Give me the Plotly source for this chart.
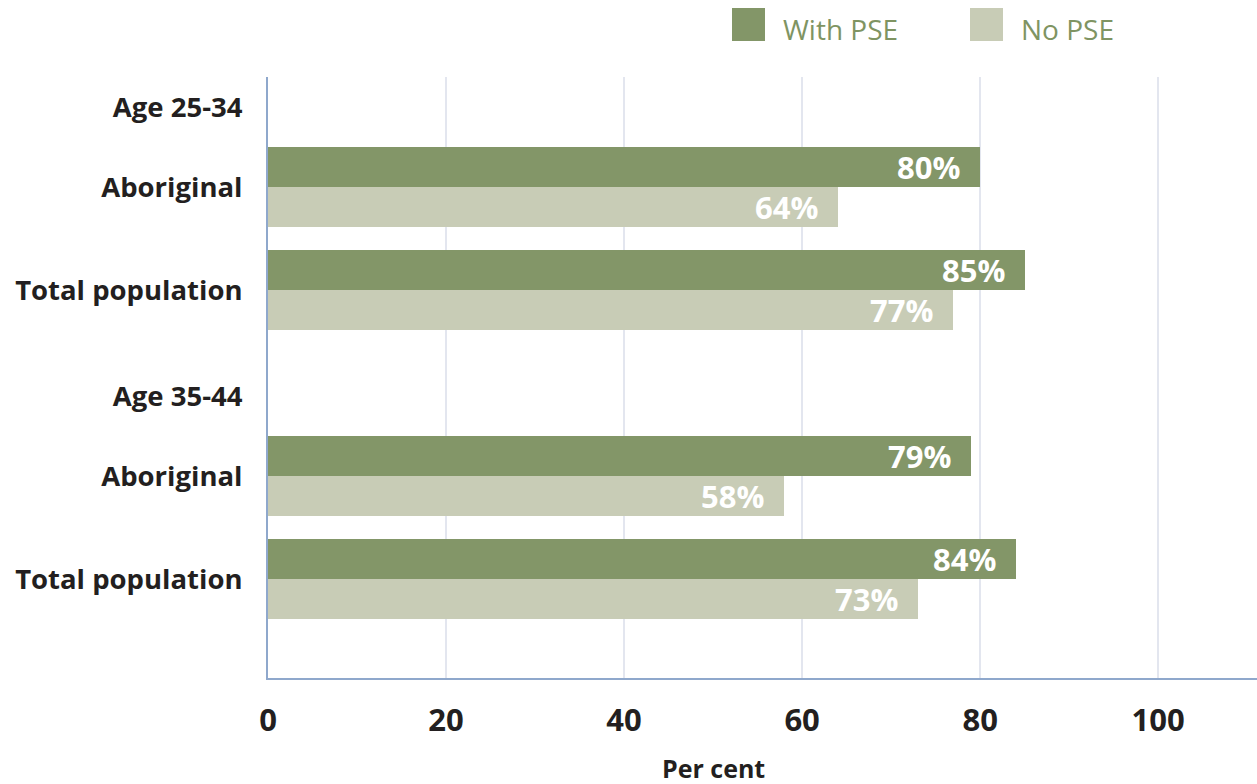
import plotly.graph_objects as go

# Employment rates (per cent) by age group and population
age_groups = ["Age 25-34", "Age 35-44"]
populations = ["Aboriginal", "Total population"]
with_pse = [[80, 85], [79, 84]]
no_pse = [[64, 77], [58, 73]]
x_ticks = [0, 20, 40, 60, 80, 100]

GREEN = "#839668"
LIGHT = "#c8ccb6"
AXIS = "#8fa8cc"
GRID = "#e3e6ef"
FONT = "Open Sans"

# vertical layout (axis units == pixels in plot area)
GROUP_STEP = 289
HEADER_OFFSET = 30
ROW_CENTERS = [110, 213]
BAR_H = 40

fig = go.Figure()

y_centers, w_vals, n_vals = [], [], []
tickvals, ticktext = [], []
for g, grp in enumerate(age_groups):
    base = g * GROUP_STEP
    tickvals.append(base + HEADER_OFFSET)
    ticktext.append(grp)
    for r, pop in enumerate(populations):
        c = base + ROW_CENTERS[r]
        y_centers.append(c)
        w_vals.append(with_pse[g][r])
        n_vals.append(no_pse[g][r])
        tickvals.append(c)
        ticktext.append(pop)

fig.add_trace(go.Bar(
    x=w_vals, y=y_centers, orientation="h", name="With PSE",
    marker=dict(color=GREEN, line=dict(width=0)),
    width=BAR_H, offset=-BAR_H, showlegend=False, hoverinfo="x"))
fig.add_trace(go.Bar(
    x=n_vals, y=y_centers, orientation="h", name="No PSE",
    marker=dict(color=LIGHT, line=dict(width=0)),
    width=BAR_H, offset=0, showlegend=False, hoverinfo="x"))

annotations = []
for c, w, n in zip(y_centers, w_vals, n_vals):
    for val, yy in ((w, c - BAR_H / 2), (n, c + BAR_H / 2)):
        annotations.append(dict(
            x=val, y=yy, xref="x", yref="y", text=f"{val}%",
            showarrow=False, xanchor="right", yanchor="middle", xshift=-18,
            font=dict(family=FONT, size=31, color="white", weight="bold")))

# axis title, centred under the 0-100 span
annotations.append(dict(
    x=50, y=-0.15, xref="x", yref="paper", text="Per cent", showarrow=False,
    xanchor="center", yanchor="middle",
    font=dict(family=FONT, size=25, color="#231f20", weight="bold")))

# legend
shapes = []
for label, color, x0 in (("With PSE", GREEN, 732), ("No PSE", LIGHT, 970)):
    shapes.append(dict(type="rect", xref="paper", yref="paper",
                       x0=(x0 - 268) / 989, x1=(x0 + 33 - 268) / 989,
                       y0=(678 - 41) / 601, y1=(678 - 8) / 601,
                       fillcolor=color, line=dict(width=0)))
    annotations.append(dict(
        x=(x0 + 49 - 268) / 989, y=(678 - 29) / 601, xref="paper", yref="paper",
        text=label, showarrow=False, xanchor="left", yanchor="middle",
        font=dict(family=FONT, size=28, color="#7f9462")))

fig.update_layout(
    width=1257, height=784,
    margin=dict(l=268, r=0, t=77, b=106),
    plot_bgcolor="white", paper_bgcolor="white",
    barmode="overlay", bargap=0,
    annotations=annotations, shapes=shapes,
    xaxis=dict(range=[0, 111.1], tickvals=x_ticks, ticktext=[str(t) for t in x_ticks],
               showgrid=True, gridcolor=GRID, gridwidth=2,
               showline=True, linecolor=AXIS, linewidth=2,
               zeroline=False, ticks="", ticklabelstandoff=14,
               tickfont=dict(family=FONT, size=31, color="#231f20", weight="bold")),
    yaxis=dict(range=[601, 0], tickvals=tickvals, ticktext=ticktext,
               showgrid=False, zeroline=False,
               showline=True, linecolor=AXIS, linewidth=2,
               ticks="", ticklabelstandoff=18,
               tickfont=dict(family=FONT, size=27.5, color="#231f20", weight="bold")),
)

fig.write_html("out.html")
